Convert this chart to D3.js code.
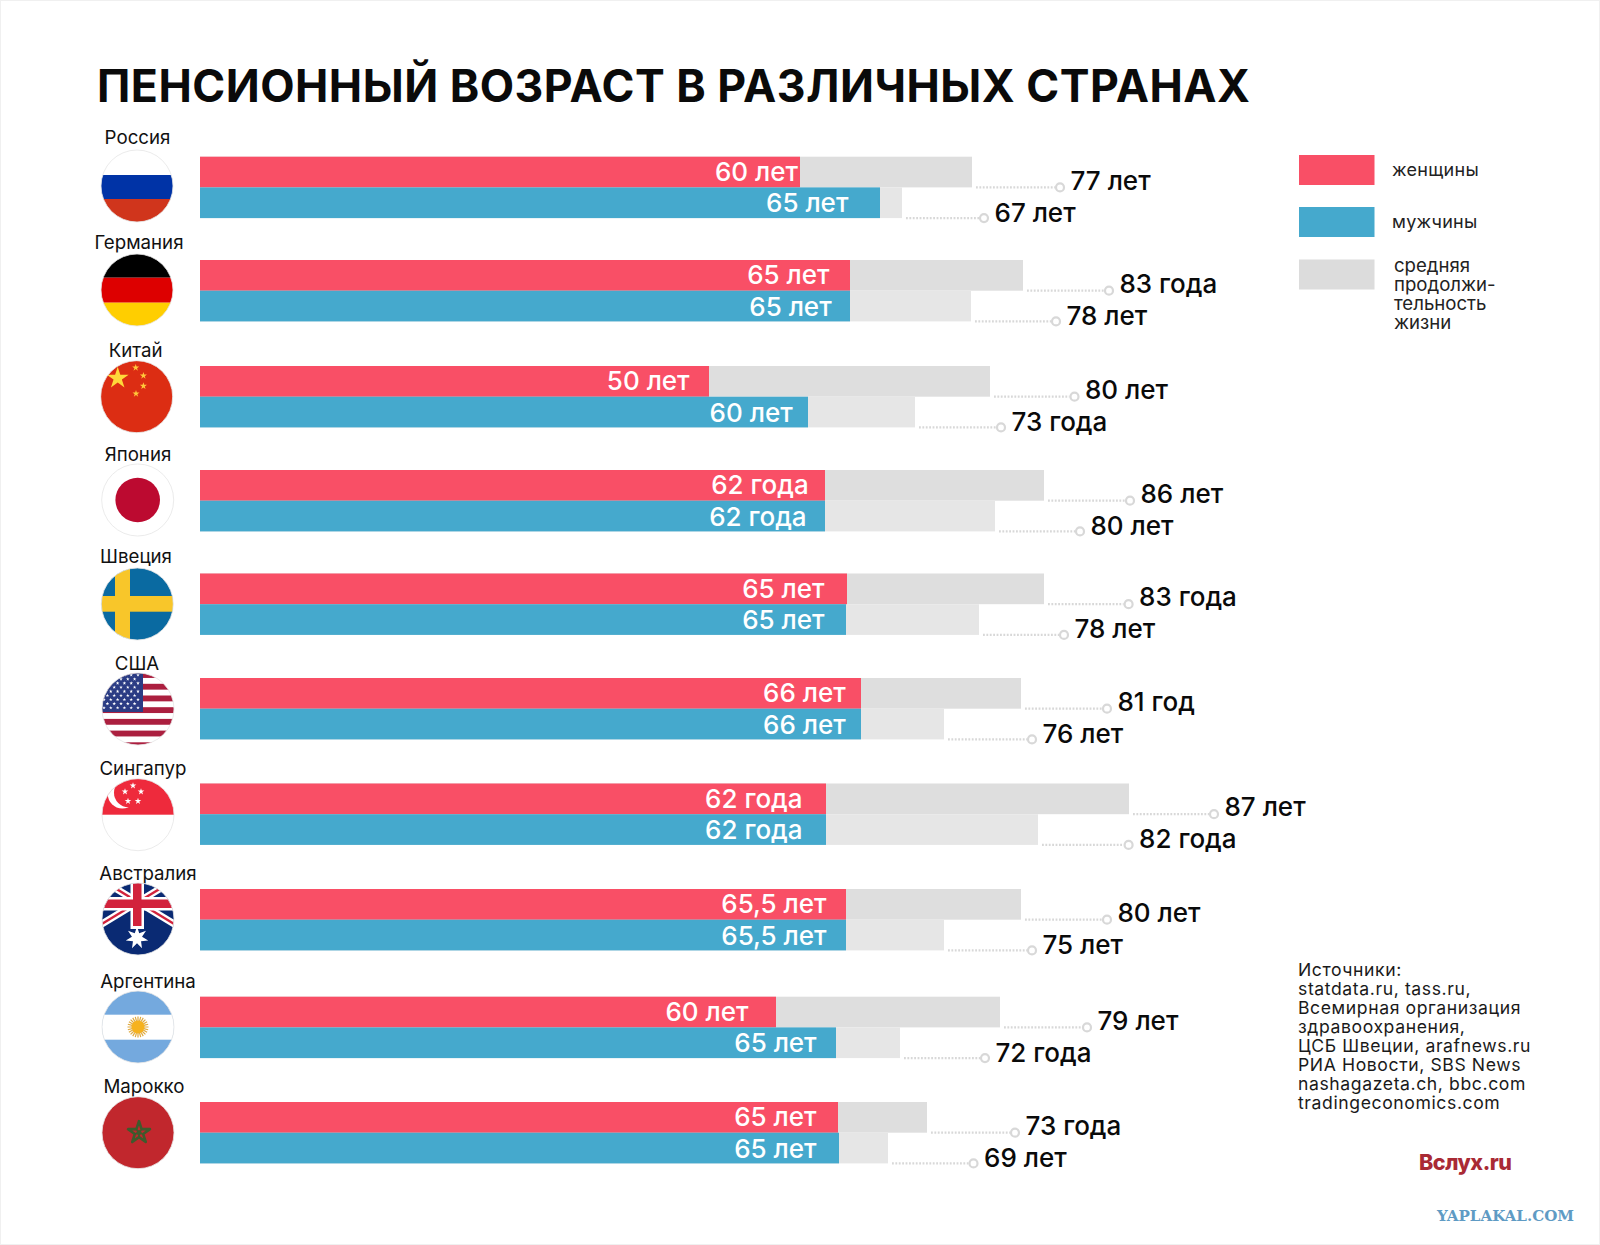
<!DOCTYPE html>
<html lang="ru"><head><meta charset="utf-8">
<script src="https://cdn.jsdelivr.net/npm/d3@7"></script>
<style>html,body{margin:0;padding:0;background:#fff}svg{display:block}text{font-family:Inter,"Noto Sans",sans-serif}</style>
</head><body><svg id="c" width="1600" height="1245"></svg>
<script>
// ---- data ----
const countries = ["Россия","Германия","Китай","Япония","Швеция","США","Сингапур","Австралия","Аргентина","Марокко"];
// bar extents as drawn
const womenBar = [60.0,65.0,50.9,62.5,64.7,66.1,62.6,64.6,57.6,63.8];
const menBar   = [68.0,65.0,60.8,62.5,64.6,66.1,62.6,64.6,63.6,63.9];
const womenLife = [77.2,82.3,79.0,84.4,84.4,82.1,92.9,82.1,80.0,72.7];
const menLife   = [70.2,77.1,71.5,79.5,77.9,74.4,83.8,74.4,70.0,68.8];
const womenLeaderEnd = [86.0,90.9,87.45,93.0,92.86,90.7,101.4,90.7,88.7,81.5];
const menLeaderEnd   = [78.4,85.6,80.1,88.0,86.4,83.2,92.86,83.2,78.5,77.35];
// printed labels
const womenAgeLabels = ["60 лет","65 лет","50 лет","62 года","65 лет","66 лет","62 года","65,5 лет","60 лет","65 лет"];
const menAgeLabels   = ["65 лет","65 лет","60 лет","62 года","65 лет","66 лет","62 года","65,5 лет","65 лет","65 лет"];
const womenLifeLabels = ["77 лет","83 года","80 лет","86 лет","83 года","81 год","87 лет","80 лет","79 лет","73 года"];
const menLifeLabels   = ["67 лет","78 лет","73 года","80 лет","78 лет","76 лет","82 года","75 лет","72 года","69 лет"];
const legendLabels = ["женщины","мужчины"];
const legendLifeLines = ["средняя","продолжи-","тельность","жизни"];
const sourceLines = ["Источники:","statdata.ru, tass.ru,","Всемирная организация","здравоохранения,","ЦСБ Швеции, arafnews.ru","РИА Новости, SBS News","nashagazeta.ch, bbc.com","tradingeconomics.com"];
const titleText = "ПЕНСИОННЫЙ ВОЗРАСТ В РАЗЛИЧНЫХ СТРАНАХ";

// ---- layout (not data) ----
const rowTops = [156.7,260,366,470,573.5,678,783.5,889,996.7,1102];
const flagY = [186,290,396.7,500,604,709,814.7,919,1027,1132.7];
const flagX = [137,137,136.7,137.7,137.3,138,138,138,138,138];
const nameX = [137.5,139,135.6,138,136,137,143,148,148,144];
const nameBase = [144,249,357,461,563,670,775,880,988,1093];
const womenInset = [2,20,19,16,22,15,23,19,27,21];
const menInset   = [31,18,15,18,21,15,23,19,19,22];
const barH = 30.7;
const RED="#f94f66", BLUE="#45a9cd", GRAY1="#dedede", GRAY2="#e6e6e6";

const svg = d3.select("#c");
const x = d3.scaleLinear().domain([0,100]).range([200,1200]);
const y = d3.scaleOrdinal().domain(countries).range(rowTops);
const rows = countries.map((c,i)=>({c,i}));

svg.append("rect").attr("x",.5).attr("y",.5).attr("width",1599).attr("height",1244).attr("fill","#fff").attr("stroke","#f0f0f0");

svg.append("text").attr("x",97).attr("y",102).attr("font-size",44.6).attr("font-weight",700).attr("fill","#0a0a0a")
  .attr("textLength",1153).attr("lengthAdjust","spacing").text(titleText);

const g = svg.append("g");
function bars(vals, off, fill){
  g.append("g").selectAll("rect").data(rows).join("rect")
   .attr("x",x(0)).attr("y",d=>y(d.c)+off).attr("height",barH)
   .attr("width",d=>x(vals[d.i])-x(0)).attr("fill",fill);
}
bars(womenLife,0,GRAY1); bars(menLife,barH,GRAY2);
bars(womenBar,0,RED); bars(menBar,barH,BLUE);

function leaders(life, end, off){
  const l = g.append("g");
  l.selectAll("line").data(rows).join("line")
   .attr("x1",d=>x(life[d.i])+4).attr("x2",d=>x(end[d.i])-5)
   .attr("y1",d=>y(d.c)+off).attr("y2",d=>y(d.c)+off)
   .attr("stroke","#d8d8d8").attr("stroke-width",2.2).attr("stroke-dasharray","1.8 1.6");
  l.selectAll("circle").data(rows).join("circle")
   .attr("cx",d=>x(end[d.i])).attr("cy",d=>y(d.c)+off).attr("r",4)
   .attr("fill","#fff").attr("stroke","#d8d8d8").attr("stroke-width",2.2);
}
leaders(womenLife,womenLeaderEnd,barH); leaders(menLife,menLeaderEnd,barH*2);

function inner(labels, vals, inset, off, dy){
  g.append("g").selectAll("text").data(rows).join("text")
   .attr("x",d=>x(vals[d.i])-inset[d.i]*1.02).attr("y",d=>y(d.c)+off+barH/2+dy)
   .attr("text-anchor","end").attr("font-size",26).attr("font-weight",500).attr("fill","#fff")
   .text(d=>labels[d.i]);
}
inner(womenAgeLabels,womenBar,womenInset,0,9); inner(menAgeLabels,menBar,menInset,barH,9.6);

function outer(labels,end,off,dy){
  g.append("g").selectAll("text").data(rows).join("text")
   .attr("x",d=>x(end[d.i])+10.5).attr("y",d=>y(d.c)+off+dy)
   .attr("font-size",26).attr("font-weight",500).attr("fill","#0a0a0a")
   .text(d=>labels[d.i]);
}
outer(womenLifeLabels,womenLeaderEnd,barH,2.2); outer(menLifeLabels,menLeaderEnd,barH*2,3.4);

g.append("g").selectAll("text").data(rows).join("text")
 .attr("x",d=>nameX[d.i]).attr("y",d=>nameBase[d.i]).attr("text-anchor","middle")
 .attr("font-size",18.7).attr("fill","#111").text(d=>d.c);

// ---- flags ----
const defs = svg.append("defs");
const R=36;
function starPts(cx,cy,r,n=5,ratio=.382,rot=-90){
  const p=[];for(let k=0;k<n*2;k++){const a=(rot+k*180/n)*Math.PI/180,q=k%2?r*ratio:r;p.push([cx+q*Math.cos(a),cy+q*Math.sin(a)].join(","));}
  return p.join(" ");
}
const rect=(f,x0,y0,w,h,c)=>f.append("rect").attr("x",x0).attr("y",y0).attr("width",w).attr("height",h).attr("fill",c);
const star=(f,cx,cy,r,c,n,ratio)=>f.append("polygon").attr("points",starPts(cx,cy,r,n,ratio)).attr("fill",c);
const flags = {
 "Россия":f=>{rect(f,-R,-R,72,25,"#fff");rect(f,-R,-11,72,24,"#0033a6");rect(f,-R,13,72,23,"#d0351c");},
 "Германия":f=>{rect(f,-R,-R,72,23.7,"#000");rect(f,-R,-12.3,72,25,"#dd0000");rect(f,-R,12.7,72,24,"#ffce00");},
 "Китай":f=>{rect(f,-R,-R,72,72,"#dc2d13");star(f,-19,-18.5,11.5,"#ffd83a");
   [[-1,-29],[6.7,-21],[6.7,-10.7],[-0.7,-3]].forEach(s=>star(f,s[0],s[1],3.7,"#ffc93a"));},
 "Япония":f=>{rect(f,-R,-R,72,72,"#fff");f.append("circle").attr("r",22.3).attr("fill","#bc0a30");},
 "Швеция":f=>{rect(f,-R,-R,72,72,"#0a6aa1");rect(f,-R,-8,72,15.7,"#f8c62a");rect(f,-22.3,-R,15,72,"#f8c62a");},
 "США":f=>{rect(f,-R,-R,72,72,"#fff");d3.range(7).forEach(k=>rect(f,-R,-34+11.7*k-2.9,72,5.85,"#ab1f3f"));
   rect(f,-R,-R,41,39,"#2b3c84");
   d3.range(9).forEach(r=>{const n=r%2?5:6;d3.range(n).forEach(c=>star(f,-34+(r%2?3.4:0)+c*6.8,-34+r*4.1,1.9,"#fff"));});},
 "Сингапур":f=>{rect(f,-R,-R,72,72,"#fff");rect(f,-R,-R,72,36,"#ee2a3c");
   f.append("circle").attr("cx",-15.7).attr("cy",-20.7).attr("r",14.5).attr("fill","#fff");
   f.append("circle").attr("cx",-9.5).attr("cy",-22).attr("r",14.5).attr("fill","#ee2a3c");
   [[-5,-29],[3,-23],[0,-13.5],[-10,-13.5],[-13,-23]].forEach(s=>star(f,s[0],s[1],3.5,"#fff"));},
 "Австралия":f=>{rect(f,-R,-R,72,72,"#0a2a73");
   const dg=(c,w)=>[[[-R-2,-R-4],[R+2,6]],[[-R-2,6],[R+2,-R-4]]].forEach(s=>f.append("line").attr("x1",s[0][0]).attr("y1",s[0][1]).attr("x2",s[1][0]).attr("y2",s[1][1]).attr("stroke",c).attr("stroke-width",w));
   dg("#fff",7);dg("#d2233c",2.4);
   rect(f,-R,-22,72,13.5,"#fff");rect(f,-7.5,-R,13.5,46,"#fff");
   rect(f,-R,-19.5,72,8.5,"#d2233c");rect(f,-5,-R,8.5,43,"#d2233c");
   star(f,-1,19,11.5,"#fff",7,.45);},
 "Аргентина":f=>{rect(f,-R,-R,72,72,"#74a9de");rect(f,-R,-12.3,72,25,"#fff");
   d3.range(24).forEach(k=>{const a=k*15*Math.PI/180;f.append("line").attr("x1",6*Math.cos(a)).attr("y1",6*Math.sin(a)).attr("x2",10.5*Math.cos(a)).attr("y2",10.5*Math.sin(a)).attr("stroke","#dfa93f").attr("stroke-width",1.2);});
   f.append("circle").attr("r",6.5).attr("fill","#f6b21e");},
 "Марокко":f=>{rect(f,-R,-R,72,72,"#c1272d");
   f.append("polygon").attr("points",starPts(1,0,11.5)).attr("fill","none").attr("stroke","#3f5a2c").attr("stroke-width",2.6).attr("stroke-linejoin","round");
   f.append("polygon").attr("points",starPts(1,0,5.5,5,.4,90)).attr("fill","#3f5a2c");}
};
defs.append("clipPath").attr("id","fc").append("circle").attr("r",R);
rows.forEach(d=>{
  const w = svg.append("g").attr("transform",`translate(${flagX[d.i]},${flagY[d.i]})`);
  const f = w.append("g").attr("clip-path","url(#fc)");
  flags[d.c](f);
  w.append("circle").attr("r",R).attr("fill","none").attr("stroke","#e6e6e6").attr("stroke-width",1).attr("stroke-opacity",.8);
});

// ---- legend ----
const lg = svg.append("g");
[[155,RED],[207,BLUE],[259.5,"#dcdcdc"]].forEach(s=>rect(lg,1299,s[0],75.5,30,s[1]));
lg.selectAll(".a").data(legendLabels).join("text").attr("class","a")
  .attr("x",1392).attr("y",(d,i)=>176+i*52).attr("font-size",18).attr("letter-spacing",.3).attr("fill","#222").text(d=>d);
lg.selectAll(".b").data(legendLifeLines).join("text").attr("class","b")
  .attr("x",1394).attr("y",(d,i)=>272+i*19).attr("font-size",18.6).attr("fill","#222").text(d=>d);

// ---- sources & marks ----
svg.append("g").selectAll("text").data(sourceLines).join("text")
  .attr("x",1298).attr("y",(d,i)=>975.5+i*19.1).attr("font-size",17.6).attr("letter-spacing",.6).attr("fill","#1a1a1a").text(d=>d);
svg.append("text").attr("x",1419).attr("y",1170).attr("font-size",21.5).attr("font-weight",800).attr("fill","#a92a35").attr("textLength",93).text("Вслух.ru");
svg.append("text").attr("x",1437).attr("y",1220.5).attr("font-size",14.5).attr("font-weight",800).attr("fill","#5f9bc4")
  .style("font-family","'DejaVu Serif',serif").attr("textLength",137).attr("lengthAdjust","spacingAndGlyphs").text("YAPLAKAL.COM");
</script></body></html>
